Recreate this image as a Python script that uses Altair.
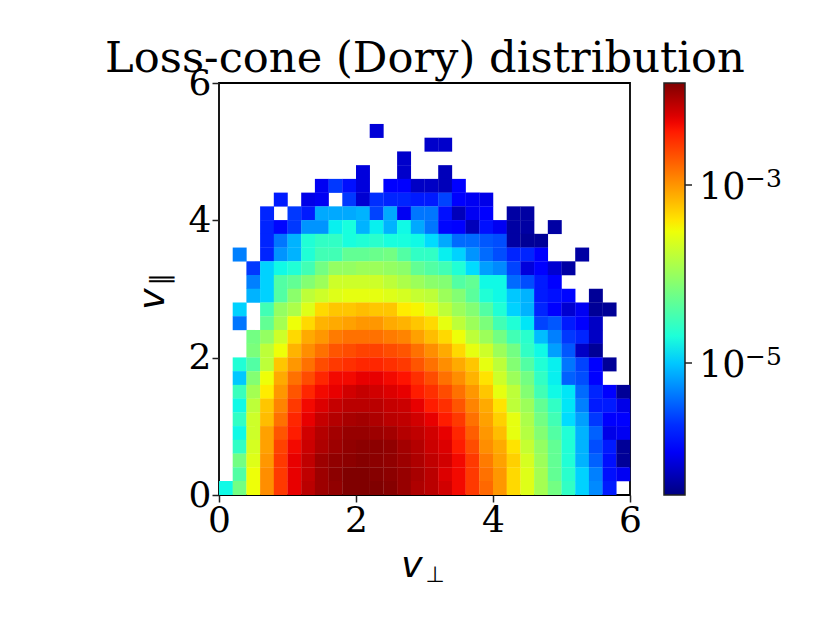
import altair as alt

# Position of each occupied cell on the colour bar (percent).
# Each row: (rows counted from the top, first column, values).  None = empty cell.
_ = None
rows = [
    (3, 11, [7.5]),
    (4, 15, [6.5, 6.5]),
    (5, 13, [6.5]),
    (6, 10, [8, _, _, 6.5, _, _, 5]),
    (7, 7, [10, 18, 14, 8, _, 11, 11, 6, 6, 5, 11]),
    (8, 4, [15, _, 9, 10, _, 18, 7, 17, 16, 16, 15, 15, 19, 12, 10, 9]),
    (9, 3, [16, _, 18, 15, 29, 29, 29, 30, 19, 29, 10, 24, 24, 14, 5, 10, 11, _, 3, 3]),
    (10, 3, [16, 13, 18, 27, 27, 36, 38, 30, 36, 30, 37, 29, 24, 13, 12, 5, 14, 10, 3, 3, _, 3]),
    (11, 3, [16, 24, 30, 39, 41, 41, 38, 39, 40, 38, 38, 37, 34, 29, 23, 23, 21, 20, 3, 2, 2]),
    (12, 1, [25, _, 16, 27, 30, 39, 43, 43, 47, 47, 48, 49, 45, 41, 41, 36, 33, 27, 23, 20, 16, 16, 11, _, _, 3]),
    (13, 2, [18, 33, 37, 39, 43, 49, 53, 53, 54, 54, 53, 52, 47, 45, 43, 39, 34, 28, 26, 19, 8, 12, 7, 3]),
    (14, 2, [25, 33, 45, 47, 51, 54, 60, 60, 60, 60, 58, 56, 54, 52, 51, 45, 47, 37, 37, 23, 20, 15, 11]),
    (15, 2, [30, 33, 45, 52, 58, 60, 62, 63, 63, 63, 62, 61, 59, 58, 54, 51, 46, 39, 37, 32, 30, 15, 14, 13, _, 2]),
    (16, 1, [33, _, 43, 53, 56, 62, 68, 70, 70, 71, 70, 70, 66, 65, 62, 58, 54, 51, 45, 39, 33, 30, 16, 12, 7, 10, 2, 2]),
    (17, 1, [24, _, 47, 55, 64, 68, 72, 73, 74, 75, 75, 73, 72, 70, 68, 63, 58, 54, 50, 43, 39, 35, 19, 21, 15, 11, 6]),
    (18, 2, [49, 53, 60, 68, 73, 75, 78, 79, 79, 79, 78, 77, 74, 71, 68, 64, 58, 54, 49, 43, 40, 31, 25, 18, 16, 6]),
    (19, 2, [50, 58, 64, 72, 76, 79, 82, 83, 84, 84, 83, 82, 79, 76, 73, 68, 63, 60, 54, 49, 41, 37, 28, 21, 6, 2]),
    (20, 1, [39, 45, 58, 70, 75, 79, 83, 85, 86, 87, 87, 86, 85, 82, 79, 76, 73, 70, 63, 58, 51, 45, 39, 36, 24, 19, 11, 2]),
    (21, 1, [32, 51, 64, 73, 79, 83, 87, 90, 90, 91, 91, 90, 89, 86, 83, 79, 76, 72, 67, 60, 54, 49, 41, 36, 22, 20, 12]),
    (22, 1, [42, 55, 66, 75, 82, 87, 90, 91, 93, 94, 93, 92, 91, 88, 86, 83, 79, 75, 70, 63, 58, 51, 43, 37, 35, 23, 16, 11, 2]),
    (23, 1, [37, 58, 70, 77, 85, 90, 92, 94, 95, 95, 95, 94, 93.5, 91, 88, 86, 82, 77, 73, 67, 58, 54, 47, 41, 35, 25, 15, 15, 9]),
    (24, 1, [41, 60, 71, 79, 87, 91, 94, 95.5, 96.5, 97, 96, 95, 94.5, 93, 91, 88, 85, 79, 74, 69, 63, 56, 49, 43, 34, 28, 18, 12, 11]),
    (25, 1, [37, 60, 74, 82, 88, 93, 95.5, 97, 98, 98, 97.5, 97, 95.5, 94.5, 93, 91, 87, 81, 75, 71, 63, 57, 51, 45, 39, 30, 22, 9, 10]),
    (26, 1, [41, 61, 74, 84, 90, 93.5, 96, 97.5, 98.5, 99, 99, 98.5, 97, 95.5, 93.5, 92, 88, 83, 76, 73, 67, 59, 53, 47, 39, 30, 20, 15, 2]),
    (27, 1, [49, 62, 75, 85, 91, 94.5, 97.5, 98.5, 99, 99.5, 99, 98.5, 97.5, 96, 94.5, 93, 90, 85, 78, 74, 69, 61, 54, 47, 39, 30, 22, 14, 2]),
    (28, 1, [45, 64, 76, 85, 91, 94.5, 97.5, 99, 100, 100, 99.5, 99, 98, 96.5, 95, 92, 90, 85, 79, 75, 68, 62, 55, 47, 40, 33, 25, 14, 10]),
    (29, 0, [37, 49, 64, 76, 85, 91, 95, 97.5, 98.5, 100, 100, 100, 99.5, 98, 96, 95, 93, 90, 85, 80, 75, 68, 62, 55, 49, 41, 33, 26, 15]),
]

LOG_MIN, LOG_MAX = -6.483, -1.854
BIN = 0.2
N = 30

# jet colormap breakpoints
jet_pos = [0, 0.11, 0.125, 0.34, 0.35, 0.375, 0.64, 0.65, 0.66, 0.89, 0.91, 1]
jet_col = ["#000080", "#0000ff", "#0000ff", "#00dcff", "#00e6f7", "#14ffe2",
           "#eeff08", "#f7f600", "#ffec00", "#ff1300", "#e80000", "#800000"]
cbar_ticks = [1e-3, 1e-5]
x_ticks = [0, 2, 4, 6]


def density(pct):
    return 10 ** (LOG_MIN + pct / 100 * (LOG_MAX - LOG_MIN))


records = []
for j, start, vals in rows:
    for k, p in enumerate(vals):
        if p is None:
            continue
        c = start + k
        records.append({
            "vperp0": c * BIN, "vperp1": (c + 1) * BIN,
            "vpar0": (N - 1 - j) * BIN, "vpar1": (N - j) * BIN,
            "f": density(p),
        })

W, H = 411, 412
SERIF = "DejaVu Serif"
SANS = "DejaVu Sans"
X0, Y0 = 219, 83  # plot origin on the page


def label(text, px, py, size, font=SERIF, italic=False, angle=0, align="center"):
    kw = dict(font=font, fontSize=size, align=align, baseline="alphabetic",
              angle=angle, color="black")
    if italic:
        kw["fontStyle"] = "italic"
    return alt.Chart(alt.Data(values=[{"t": text}])).mark_text(**kw).encode(
        text="t:N", x=alt.value(px - X0), y=alt.value(py - Y0))


def tick(py):
    return alt.Chart(alt.Data(values=[{"a": 1}])).mark_rule(color="#222222", strokeWidth=1.5).encode(
        x=alt.value(685 - X0), x2=alt.value(692 - X0), y=alt.value(py - Y0))


color_scale = alt.Scale(type="log", domain=[10 ** (LOG_MIN + p * (LOG_MAX - LOG_MIN)) for p in jet_pos],
                        range=jet_col, interpolate="rgb", clamp=True)

axis_style = dict(values=x_ticks, title=None, grid=False, domain=False, tickSize=7,
                  tickWidth=1.5, tickColor="#222222", labelFont=SERIF, labelFontSize=36,
                  labelColor="black", labelPadding=1, labelFlush=False, labelBound=False)

heat = alt.Chart(alt.Data(values=records)).mark_rect(x2Offset=0.25, y2Offset=-0.25).encode(
    x=alt.X("vperp0:Q", scale=alt.Scale(domain=[0, 6], nice=False), axis=alt.Axis(**axis_style)),
    x2="vperp1:Q",
    y=alt.Y("vpar0:Q", scale=alt.Scale(domain=[0, 6], nice=False), axis=alt.Axis(**axis_style)),
    y2="vpar1:Q",
    color=alt.Color("f:Q", scale=color_scale,
                    legend=alt.Legend(orient="none", legendX=445, legendY=0, direction="vertical",
                                      title=None, gradientLength=412, gradientThickness=21,
                                      gradientStrokeColor="#222222", gradientStrokeWidth=1.5,
                                      values=cbar_ticks, labelOpacity=0, labelFontSize=1, padding=0)),
)

chart = alt.layer(
    heat,
    tick(185), tick(363),
    label("Loss-cone (Dory) distribution", 425, 72, 43.2),
    label("v", 412, 577, 36, font=SANS, italic=True),
    label("\u22a5", 435, 582, 22, font=SANS),
    label("v", 164, 299, 36, font=SANS, italic=True, angle=270),
    label("\u2225", 169, 279, 26, font=SANS, angle=270),
    label("10", 699, 199, 36.5, align="left"),
    label("\u22123", 745, 187, 25, align="left"),
    label("10", 699, 377, 36.5, align="left"),
    label("\u22125", 745, 365, 25, align="left"),
).properties(
    width=W, height=H,
    autosize=alt.AutoSizeParams(type="none"),
    padding={"left": 211, "top": 75, "right": 180, "bottom": 120},
).configure_view(stroke="black", strokeWidth=1.8)

chart.save("out.html", embed_options={"renderer": "svg", "actions": False})
